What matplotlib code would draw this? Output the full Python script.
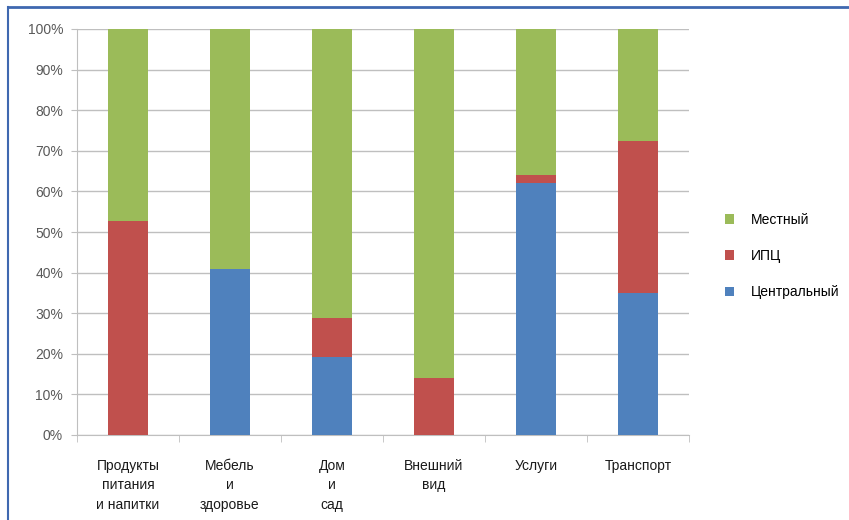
import matplotlib
matplotlib.use("Agg")
import matplotlib.pyplot as plt
import numpy as np
from matplotlib.ticker import PercentFormatter, FixedLocator

categories = ["Продукты\nпитания\nи напитки", "Мебель\nи\nздоровье", "Дом\nи\nсад",
              "Внешний\nвид", "Услуги", "Транспорт"]
central = [0, 41, 19.3, 0, 62, 35]
ipc = [52.8, 0, 9.5, 14.1, 2, 37.3]
local = [47.2, 59, 71.2, 85.9, 36, 27.7]

colors = {"Центральный": "#4F81BD", "ИПЦ": "#C0504D", "Местный": "#9BBB59"}

plt.rcParams['font.family'] = ['Liberation Sans', 'DejaVu Sans']

fig = plt.figure(figsize=(8.49, 5.2), dpi=100)
ax = fig.add_axes([77/849, (520-435)/520, (689-77)/849, (435-29)/520])

x = np.arange(len(categories))
w = 0.4
b1 = ax.bar(x, central, w, color=colors["Центральный"], label="Центральный", zorder=3)
b2 = ax.bar(x, ipc, w, bottom=central, color=colors["ИПЦ"], label="ИПЦ", zorder=3)
bottom3 = np.array(central) + np.array(ipc)
b3 = ax.bar(x, local, w, bottom=bottom3, color=colors["Местный"], label="Местный", zorder=3)

ax.set_xlim(-0.5, len(categories) - 0.5)
ax.set_ylim(0, 100)
ax.set_yticks(np.arange(0, 101, 10))
ax.yaxis.set_major_formatter(PercentFormatter(decimals=0))
ax.grid(axis='y', color='#BFBFBF', linewidth=1, zorder=0)
for s in ['top', 'right']:
    ax.spines[s].set_visible(False)
ax.spines['left'].set_color('#BFBFBF')
ax.spines['bottom'].set_color('#BFBFBF')
ax.tick_params(axis='y', length=4, color='#BFBFBF', labelsize=10, labelcolor='#595959', pad=6)
ax.set_xticks(x)
ax.set_xticklabels(categories, fontsize=10, color='#1a1a1a', linespacing=1.5)
ax.tick_params(axis='x', length=0, pad=17)
ax.xaxis.set_minor_locator(FixedLocator(np.arange(-0.5, len(categories), 1.0)))
ax.tick_params(axis='x', which='minor', length=5, color='#BFBFBF')

handles = [b3, b2, b1]
leg = fig.legend(handles, ["Местный", "ИПЦ", "Центральный"], loc='center left',
                 bbox_to_anchor=(712/849, 1 - 256/520), frameon=False,
                 fontsize=10, handlelength=0.7, handleheight=0.7,
                 labelspacing=1.6, handletextpad=1.2)

# frame lines (blue border)
fig.add_artist(plt.Line2D([8/849, 1], [1 - 7/520, 1 - 7/520], color='#3F68B0', linewidth=2))
fig.add_artist(plt.Line2D([8/849, 8/849], [0, 1 - 7/520], color='#3F68B0', linewidth=1.5))

fig.savefig("out.png", dpi=100)
